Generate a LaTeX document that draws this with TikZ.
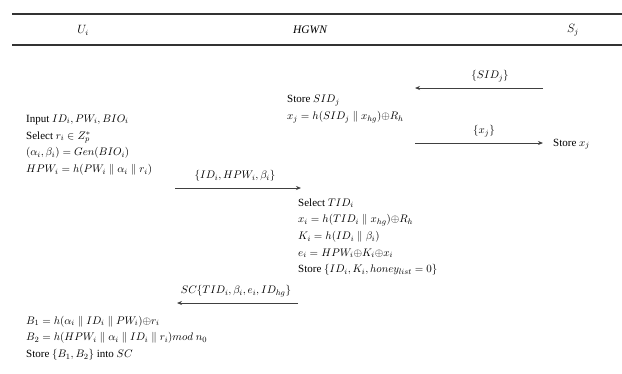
\documentclass[tikz,border=0pt]{standalone}
\usepackage{fontspec}
\setmainfont{Liberation Serif}
\usetikzlibrary{arrows.meta}
\begin{document}
\begin{tikzpicture}[x=1pt,y=-1pt,
  txt/.style={anchor=west,align=left,inner sep=0pt,font=\fontsize{11}{16.7}\selectfont},
  lbl/.style={inner sep=0pt,font=\fontsize{11}{13}\selectfont},
  hdr/.style={inner sep=0pt,font=\fontsize{11.5}{13}\selectfont},
  rule/.style={line width=1.6pt,black!80},
  msg/.style={line width=0.8pt,black!75,-{Stealth[length=5pt,width=4pt]}}]
\useasboundingbox (0,0) rectangle (622,373);
\coordinate (l1a) at (12,14); \coordinate (l1b) at (622,14);
\coordinate (l2a) at (12,45); \coordinate (l2b) at (622,45);
\draw[rule] (l1a) -- (l1b);
\draw[rule] (l2a) -- (l2b);
\node[hdr] (uh) at (83,30) {$U_i$};
\node[hdr] (hh) at (310,30) {$\mathit{HGWN}$};
\node[hdr] (sh) at (573,30) {$S_j$};
% message 1
\coordinate (m1s) at (543,88); \coordinate (m1e) at (415,88);
\draw[msg] (m1s) -- (m1e);
\node[lbl] (m1l) at (490,76) {$\{SID_j\}$};
\node[txt] (hb1) at (287,109) {Store $SID_j$\\ $x_j = h(SID_j \parallel x_{hg}) {\oplus} R_h$};
% message 2
\coordinate (m2s) at (415,143); \coordinate (m2e) at (543,143);
\draw[msg] (m2s) -- (m2e);
\node[lbl] (m2l) at (484,131) {$\{x_j\}$};
\node[txt] (sb1) at (553,144) {Store $x_j$};
% user block
\node[txt] (ub1) at (26,145) {Input $ID_i, PW_i, BIO_i$\\ Select $r_i \in Z_p^*$\\ $(\alpha_i,\beta_i) = Gen(BIO_i)$\\ $HPW_i = h(PW_i \parallel \alpha_i \parallel r_i)$};
% message 3
\coordinate (m3s) at (175,188); \coordinate (m3e) at (301,188);
\draw[msg] (m3s) -- (m3e);
\node[lbl] (m3l) at (235,176) {$\{ID_i, HPW_i, \beta_i\}$};
\node[txt] (hb2) at (298,237) {Select $TID_i$\\ $x_i = h(TID_i \parallel x_{hg}) {\oplus} R_h$\\ $K_i = h(ID_i \parallel \beta_i)$\\ $e_i = HPW_i {\oplus} K_i {\oplus} x_i$\\ Store $\{ID_i, K_i, honey_{list} = 0\}$};
% message 4
\coordinate (m4s) at (298,303); \coordinate (m4e) at (177,303);
\draw[msg] (m4s) -- (m4e);
\node[lbl] (m4l) at (236,291) {$SC\{TID_i,\beta_i,e_i,ID_{hg}\}$};
\node[txt] (ub2) at (26,338) {$B_1 = h(\alpha_i \parallel ID_i \parallel PW_i) {\oplus} r_i$\\ $B_2 = h(HPW_i \parallel \alpha_i \parallel ID_i \parallel r_i) mod\ n_0$\\ Store $\{B_1,B_2\}$ into $SC$};
\end{tikzpicture}
\end{document}
